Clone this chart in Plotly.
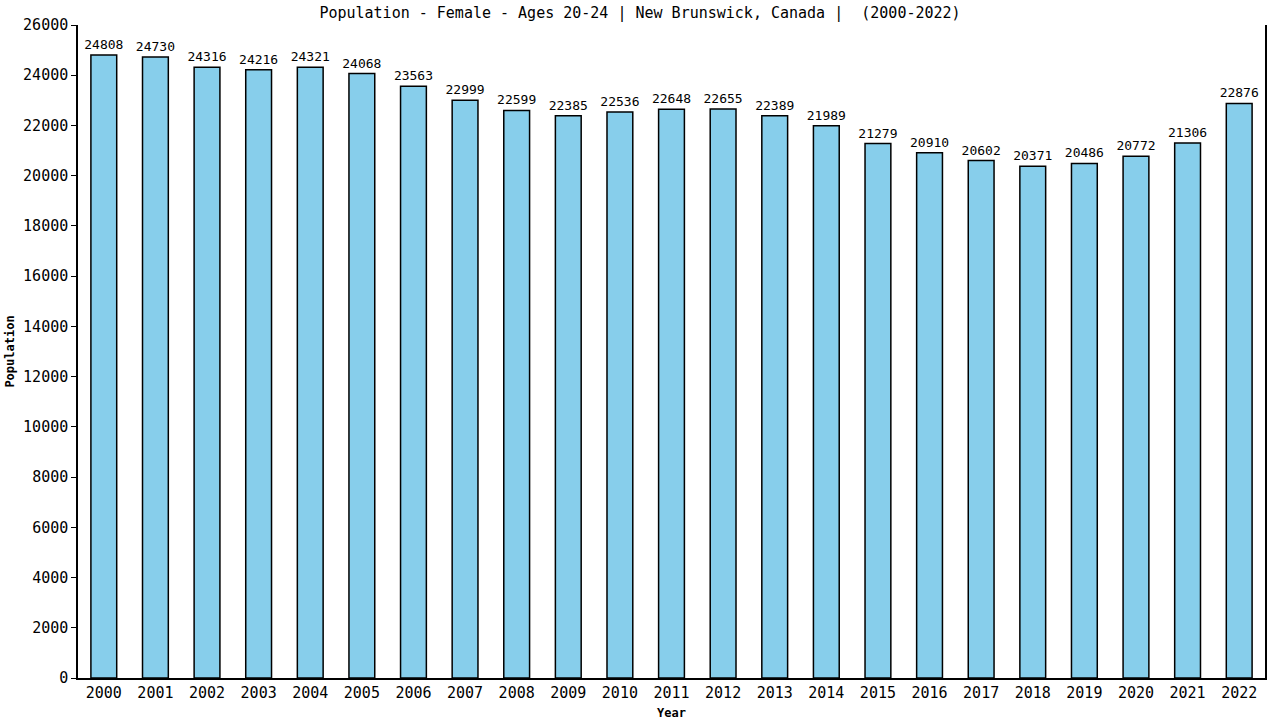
import plotly.graph_objects as go

years = [str(y) for y in range(2000, 2023)]
population = [24808, 24730, 24316, 24216, 24321, 24068, 23563, 22999, 22599,
              22385, 22536, 22648, 22655, 22389, 21989, 21279, 20910, 20602,
              20371, 20486, 20772, 21306, 22876]
y_ticks = list(range(0, 26001, 2000))

font_family = "DejaVu Sans Mono"

fig = go.Figure()

# bars with value labels on top
fig.add_trace(
    go.Bar(x=years,
           y=population,
           width=0.5,
           marker=dict(color='#87ceeb', line=dict(color='black', width=1.5)),
           text=[str(v) for v in population],
           textposition='outside',
           constraintext='none',
           textfont=dict(family=font_family, size=13, color='black'),
           cliponaxis=False)
)

fig.update_layout(
    title={'text': 'Population - Female - Ages 20-24 | New Brunswick, Canada |  (2000-2022)',
           'x': 0.5, 'xanchor': 'center', 'xref': 'container',
           'y': 0.982, 'yanchor': 'middle', 'yref': 'container',
           'font': dict(family=font_family, size=15, color='black')},
    font=dict(family=font_family, size=15, color='black'),
    width=1280,
    height=720,
    margin=dict(l=78, r=15, t=25, b=42, autoexpand=False),
    plot_bgcolor='white',
    paper_bgcolor='white',
    showlegend=False,
)

fig.update_xaxes(title=dict(text='<b>Year</b>', font=dict(size=12), standoff=9),
                 type='category',
                 range=[-0.5, 22.5],
                 automargin=False,
                 showline=True, linewidth=1.5, linecolor='black',
                 ticks='', showgrid=False,
                 tickfont=dict(size=15))

fig.update_yaxes(title=dict(text='<b>Population</b>', font=dict(size=12), standoff=6),
                 range=[0, 26000],
                 automargin=False,
                 tickvals=y_ticks,
                 ticktext=[str(v) for v in y_ticks],
                 showline=True, linewidth=1.5, linecolor='black',
                 mirror=True,
                 ticks='outside', ticklen=5, tickcolor='black',
                 showgrid=False, zeroline=False,
                 tickfont=dict(size=15))

# drop the page's default body margin so the figure fills the window
fig.write_html("out.html",
               config={'displayModeBar': False},
               post_script="document.body.style.margin = '0';")
